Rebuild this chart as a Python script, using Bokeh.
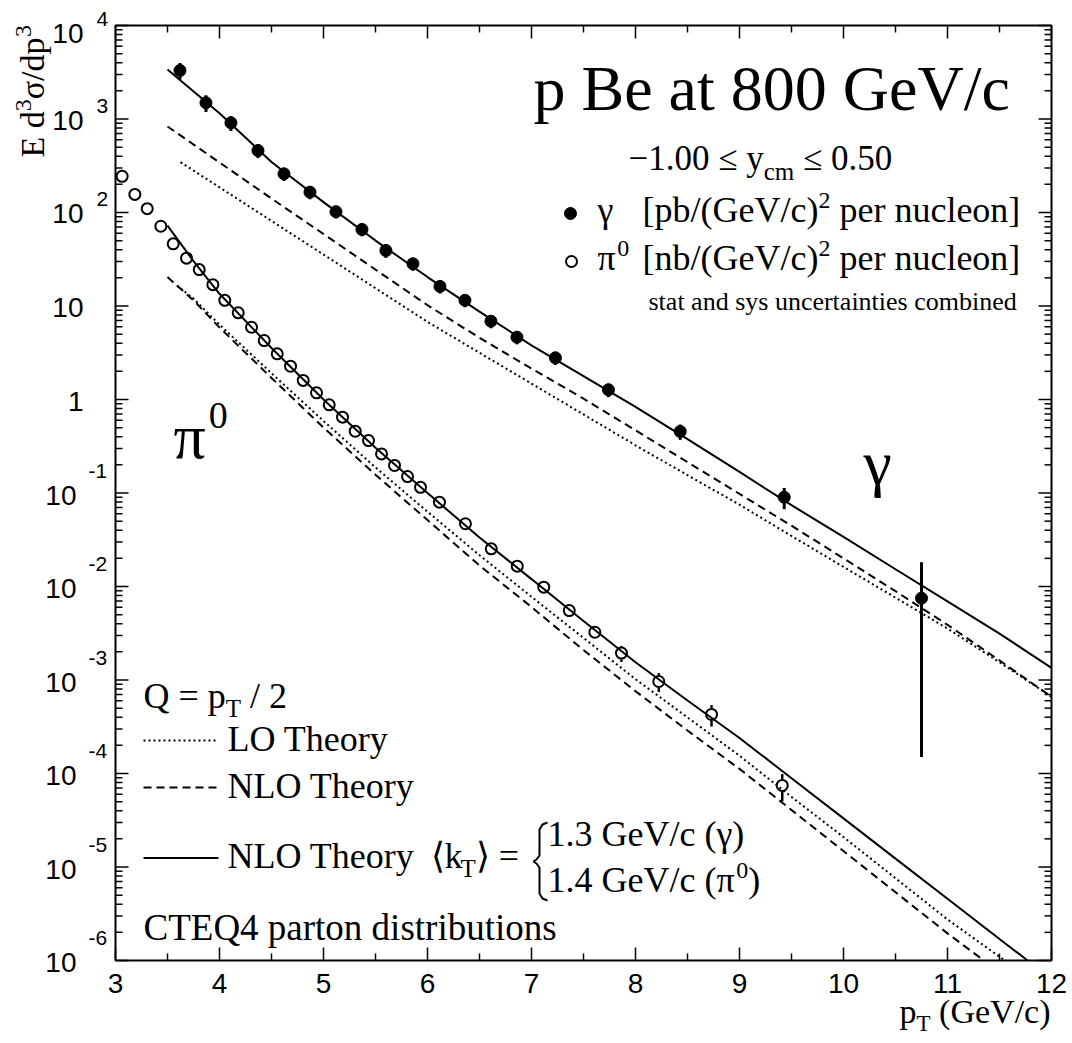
import math
from bokeh.plotting import figure
from bokeh.models import Label, Range1d, ColumnDataSource, LogScale
from bokeh.embed import file_html
from bokeh.resources import INLINE

# ---------------- data ----------------
gamma_pt = [3.62, 3.87, 4.11, 4.37, 4.62, 4.87, 5.12, 5.37, 5.60, 5.86, 6.12,
            6.36, 6.61, 6.86, 7.23, 7.74, 8.43, 9.43, 10.75]
gamma_xs = [3300, 1490, 910, 460, 259, 165, 102, 65.8, 39.2, 28.3, 16.2,
            11.5, 6.88, 4.64, 2.79, 1.27, 0.455, 0.0901, 0.0075]
gamma_err_lo = [660, 300, 165, 78, 42, 26, 16, 10, 6.5, 4.5, 2.6,
                1.8, 1.1, 0.75, 0.45, 0.21, 0.085, 0.023, 0.00735]
gamma_err_hi = [660, 300, 165, 78, 42, 26, 16, 10, 6.5, 4.5, 2.6,
                1.8, 1.1, 0.75, 0.45, 0.21, 0.085, 0.023, 0.0107]

pi0_pt = [3.064, 3.186, 3.305, 3.436, 3.555, 3.683, 3.805, 3.936, 4.051, 4.180,
          4.308, 4.430, 4.555, 4.683, 4.805, 4.933, 5.055, 5.183, 5.305, 5.433,
          5.558, 5.683, 5.808, 5.933, 6.115, 6.365, 6.613, 6.863, 7.118, 7.363,
          7.609, 7.865, 8.224, 8.731, 9.411]
pi0_xs = [244, 156, 110, 71.3, 46.2, 32.5, 24.5, 16.9, 11.5, 8.46,
          5.93, 4.27, 3.08, 2.27, 1.60, 1.18, 0.877, 0.647, 0.458, 0.364,
          0.262, 0.197, 0.150, 0.115, 0.0798, 0.0469, 0.0253, 0.0165, 0.00984, 0.00553,
          0.00324, 0.00194, 0.000964, 0.000428, 7.45e-5]
pi0_err = [12, 8, 5.5, 3.6, 2.3, 1.6, 1.2, 0.85, 0.6, 0.42,
           0.3, 0.21, 0.16, 0.12, 0.08, 0.06, 0.045, 0.035, 0.025, 0.02,
           0.015, 0.011, 0.009, 0.007, 0.005, 0.0032, 0.0018, 0.0013, 0.0009, 0.0006,
           0.00042, 0.00038, 0.00022, 0.00011, 2.4e-5]

# theory curves
gamma_th_pt = [3.5, 4.0, 4.5, 5.0, 5.5, 6.0, 6.5, 7.0, 7.5, 8.0, 8.5, 9.0,
               9.5, 10.0, 10.5, 11.0, 11.5, 12.0]
gamma_nlo_kt = [3390, 1150, 347, 129, 50.1, 20.4, 8.71, 3.80, 1.78, 0.832, 0.376, 0.168,
                0.0741, 0.0339, 0.0153, 0.00692, 0.00313, 0.00135]
gamma_nlo = [832, 343, 141, 58.9, 24.5, 10.2, 4.57, 2.14, 1.02, 0.468, 0.214, 0.0977,
             0.0447, 0.0200, 0.00891, 0.00389, 0.00162, 0.000661]
gamma_lo_pt = [3.625, 4.0, 4.5, 5.0, 5.5, 6.0, 6.5, 7.0, 7.5, 8.0, 8.5, 9.0,
               9.5, 10.0, 10.5, 11.0, 11.5, 12.0]
gamma_lo = [345, 186, 81.3, 35.5, 15.5, 6.76, 3.16, 1.48, 0.692, 0.324, 0.155, 0.0750,
            0.0347, 0.0162, 0.00759, 0.00355, 0.00155, 0.000661]

pi0_kt_pt = [3.5, 3.75, 4.0, 4.5, 5.0, 5.5, 6.0, 6.5, 7.0, 7.5, 8.0, 8.5, 9.0,
             9.5, 10.0, 10.5, 11.0, 11.5, 11.77]
pi0_nlo_kt = [72.4, 30.2, 13.5, 3.55, 1.00, 0.305, 0.100, 0.0335, 0.0120, 0.00427,
              0.00155, 0.000603, 0.000240, 8.91e-5, 3.31e-5, 1.23e-5, 4.57e-6, 1.70e-6, 1.0e-6]
pi0_nlo_pt = [3.5, 3.75, 4.0, 4.5, 5.0, 5.5, 6.0, 6.5, 7.0, 7.5, 8.0, 8.5, 9.0,
              9.5, 10.0, 10.5, 11.0, 11.35]
pi0_nlo = [20.4, 11.5, 5.89, 1.70, 0.501, 0.157, 0.0513, 0.0168, 0.00603, 0.00209,
           0.000759, 0.000288, 0.000112, 4.07e-5, 1.48e-5, 5.37e-6, 1.95e-6, 1.0e-6]
pi0_lo_pt = [3.59, 3.75, 4.0, 4.5, 5.0, 5.5, 6.0, 6.5, 7.0, 7.5, 8.0, 8.5, 9.0,
             9.5, 10.0, 10.5, 11.0, 11.55]
pi0_lo = [16.6, 12.0, 6.31, 1.91, 0.589, 0.188, 0.0631, 0.0216, 0.00776, 0.00282,
          0.00102, 0.000398, 0.000155, 5.62e-5, 2.09e-5, 7.59e-6, 2.75e-6, 1.0e-6]

x_tick_values = [3, 4, 5, 6, 7, 8, 9, 10, 11, 12]
y_decades = [-6, -5, -4, -3, -2, -1, 0, 1, 2, 3, 4]

# ---------------- geometry of the page ----------------
CW, CH = 1072, 1043                  # canvas
FL, FT, FW, FH = 115, 25, 936, 935   # visible axes box in canvas pixels
XMIN, XMAX = 3.0, 12.0
LYMIN, LYMAX = -6.0, 4.0
PX_PER_X = FW / (XMAX - XMIN)
PX_PER_DEC = FH / (LYMAX - LYMIN)

x_range = Range1d(XMIN - FL / PX_PER_X, XMIN + (CW - FL) / PX_PER_X)
y_range = Range1d(10 ** (LYMIN - (CH - FT - FH) / PX_PER_DEC), 10 ** (LYMAX + FT / PX_PER_DEC))

p = figure(width=CW, height=CH, x_range=x_range, y_range=y_range,
           y_axis_type="log", x_axis_location=None, y_axis_location=None,
           output_backend="svg", toolbar_location=None, min_border=0,
           background_fill_color="white", border_fill_color="white",
           outline_line_color=None)
p.y_scale = LogScale()
p.grid.visible = False

# ---------------- axes box and ticks ----------------
ymin, ymax = 10 ** LYMIN, 10 ** LYMAX
p.quad(left=[XMIN], right=[XMAX], bottom=[ymin], top=[ymax],
       fill_color=None, line_color="black", line_width=2)

x_minor = [t + 0.5 for t in x_tick_values[:-1]]
y_major = [10.0 ** k for k in y_decades]
y_minor = [m * 10.0 ** k for k in y_decades[:-1] for m in range(2, 10)]
TW = 1.5
for xs, ln in ((x_tick_values, 13), (x_minor, 7)):
    p.ray(x=xs, y=[ymin] * len(xs), length=ln, length_units="screen",
          angle=math.pi / 2, line_color="black", line_width=TW)
    p.ray(x=xs, y=[ymax] * len(xs), length=ln, length_units="screen",
          angle=-math.pi / 2, line_color="black", line_width=TW)
for ys, ln in ((y_major, 13), (y_minor, 7)):
    p.ray(x=[XMIN] * len(ys), y=ys, length=ln, length_units="screen",
          angle=0.0, line_color="black", line_width=TW)
    p.ray(x=[XMAX] * len(ys), y=ys, length=ln, length_units="screen",
          angle=math.pi, line_color="black", line_width=TW)

# ---------------- curves ----------------
LW = 2
DOT = "2 3"
DASH = "8 5"
p.line(gamma_th_pt, gamma_nlo_kt, line_color="black", line_width=LW)
p.line(gamma_th_pt, gamma_nlo, line_color="black", line_width=LW, line_dash=DASH)
p.line(gamma_lo_pt, gamma_lo, line_color="black", line_width=LW, line_dash=DOT)
p.line(pi0_kt_pt, pi0_nlo_kt, line_color="black", line_width=LW)
p.line(pi0_nlo_pt, pi0_nlo, line_color="black", line_width=LW, line_dash=DASH)
p.line(pi0_lo_pt, pi0_lo, line_color="black", line_width=LW, line_dash=DOT)

# ---------------- error bars and points ----------------
gsrc = ColumnDataSource(dict(x=gamma_pt, y=gamma_xs,
                             lo=[y - e for y, e in zip(gamma_xs, gamma_err_lo)],
                             hi=[y + e for y, e in zip(gamma_xs, gamma_err_hi)]))
p.segment(x0="x", y0="lo", x1="x", y1="hi", source=gsrc, line_color="black", line_width=3)
p.scatter(x="x", y="y", source=gsrc, marker="circle", size=12,
          fill_color="black", line_color="black")

gap = 1.17   # marker radius expressed as a factor on the log axis
up_x, up_0, up_1, dn_x, dn_0, dn_1 = [], [], [], [], [], []
for x, y, e in zip(pi0_pt, pi0_xs, pi0_err):
    if y + e > y * gap:
        up_x.append(x); up_0.append(y * gap); up_1.append(y + e)
    if y - e < y / gap:
        dn_x.append(x); dn_0.append(y - e); dn_1.append(y / gap)
p.segment(x0=up_x, y0=up_0, x1=up_x, y1=up_1, line_color="black", line_width=2.5)
p.segment(x0=dn_x, y0=dn_0, x1=dn_x, y1=dn_1, line_color="black", line_width=2.5)
p.scatter(pi0_pt, pi0_xs, marker="circle", size=11, fill_color=None,
          line_color="black", line_width=2)

# ---------------- text helpers (canvas pixel -> data) ----------------
def X(px):
    return XMIN + (px - FL) / PX_PER_X

def Y(py):
    return 10 ** (LYMAX - (py - FT) / PX_PER_DEC)

SERIF = "Liberation Serif"
SANS = "Liberation Sans"
MID = 0.34   # distance from the middle anchor down to the baseline, in em
W = {' ': .25, '(': .333, ')': .333, '[': .333, ']': .333, '/': .278, '.': .25,
     '=': .564, '−': .564, '≤': .549, '-': .333,
     'B': .667, 'C': .667, 'E': .611, 'G': .722, 'L': .611, 'N': .722, 'O': .722,
     'Q': .722, 'T': .611, 'V': .722,
     'a': .444, 'b': .5, 'c': .444, 'd': .5, 'e': .444, 'h': .5, 'i': .278, 'k': .5,
     'l': .278, 'm': .778, 'n': .5, 'o': .5, 'p': .5, 'r': .333, 's': .389, 't': .278,
     'u': .5, 'y': .5, 'γ': .44, 'π': .55, 'σ': .55, '⟨': .33, '⟩': .33}

def tw(s, size):
    return sum(W.get(c, .5) for c in s) * size

def put(px, py, text, size, font=SERIF, align="left", angle=0.0):
    # (px, py): start (or align point) on the text baseline, canvas pixels
    if angle == 0.0:
        ax, ay = px, py - MID * size
    else:
        ax, ay = px - MID * size, py
    p.add_layout(Label(x=X(ax), y=Y(ay), text=text, text_font=font,
                       text_font_size=f"{size}px", text_color="black",
                       text_align=align, text_baseline="middle", angle=angle))

def rich(px, py, segs, font=SERIF):
    x = px
    for text, size, rise in segs:
        stripped = text.lstrip(" ")
        x += tw(text[:len(text) - len(stripped)], size)
        put(x, py - rise, stripped, size, font)
        x += tw(stripped, size)
    return x

def rich_width(segs):
    return sum(tw(t, s) for t, s, r in segs)

def rich_vertical(px_base, py_start, segs):
    y = py_start
    for text, size, rise in segs:
        put(px_base - rise, y, text, size, angle=math.pi / 2)
        y -= tw(text, size)

# x tick labels
for t in x_tick_values:
    put(FL + (t - XMIN) * PX_PER_X, 993, str(t), 28, SANS, align="center")

# y tick labels (ROOT style: 10 with raised exponent)
for k in y_decades:
    ty = FT + (LYMAX - k) * PX_PER_DEC
    shift = 7 if k == 4 else 0
    if k == 0:
        put(83, ty + 12, "1", 28, SANS, align="right")
    elif k == 1:
        put(83, ty + 11, "10", 28, SANS, align="right")
    elif k > 1:
        put(83, ty + 11 + shift, "10", 28, SANS, align="right")
        put(96, ty - 6 + shift, str(k), 21, SANS)
    else:
        put(76, ty + 12, "10", 28, SANS, align="right")
        put(88, ty - 15, str(k), 21, SANS)

# axis titles
rich_vertical(44, 157, [("E d", 34, 0), ("3", 24, 13), ("σ/dp", 34, 0), ("3", 24, 13)])
xt_segs = [("p", 34, 0), ("T", 23, -8), (" (GeV/c)", 34, 0)]
rich(1050 - rich_width(xt_segs), 1023, xt_segs)

# top-right block
put(533, 110, "p Be at 800 GeV/c", 64)
rich(628, 170, [("−1.00 ≤ y", 35, 0), ("cm", 25, -9), (" ≤ 0.50", 35, 0)])
p.scatter([X(570)], [Y(213)], marker="circle", size=12, fill_color="black", line_color="black")
p.scatter([X(571)], [Y(261)], marker="circle", size=11, fill_color=None,
          line_color="black", line_width=2)
put(597, 222, "γ", 36)
rich(642, 222, [("[pb/(GeV/c)", 36, 0), ("2", 24, 14), (" per nucleon]", 36, 0)])
rich(597, 270, [("π", 36, 0), ("0", 24, 14)])
rich(642, 270, [("[nb/(GeV/c)", 36, 0), ("2", 24, 14), (" per nucleon]", 36, 0)])
put(648, 310, "stat and sys uncertainties combined", 26)

# big particle labels
put(863, 484, "γ", 64)
rich(173, 458, [("π", 64, 0), ("0", 38, 30)])

# bottom-left legend
rich(143, 708, [("Q = p", 36, 0), ("T", 25, -8), (" / 2", 36, 0)])
p.line([X(143), X(218)], [Y(740), Y(740)], line_color="black", line_width=LW, line_dash=DOT)
put(227, 751, "LO Theory", 36)
p.line([X(143), X(218)], [Y(787), Y(787)], line_color="black", line_width=LW, line_dash=DASH)
put(227, 798, "NLO Theory", 36)
p.line([X(143), X(218)], [Y(857.5), Y(857.5)], line_color="black", line_width=LW)
put(227, 868, "NLO Theory", 36)
rich(430, 868, [("⟨k", 36, 0), ("T", 25, -8), ("⟩ =", 36, 0)])
brace_px = [547, 542, 539, 539, 536, 533, 536, 539, 539, 542, 547]
brace_py = [822, 824, 829, 855, 859, 861, 863, 867, 893, 898, 900]
p.line([X(v) for v in brace_px], [Y(v) for v in brace_py], line_color="black", line_width=2)
put(547, 846, "1.3 GeV/c (γ)", 36)
rich(547, 892, [("1.4 GeV/c (π", 36, 0), ("0", 24, 14), (")", 36, 0)])
put(143, 940, "CTEQ4 parton distributions", 37)

open("out.html", "w").write(file_html(p, INLINE))
